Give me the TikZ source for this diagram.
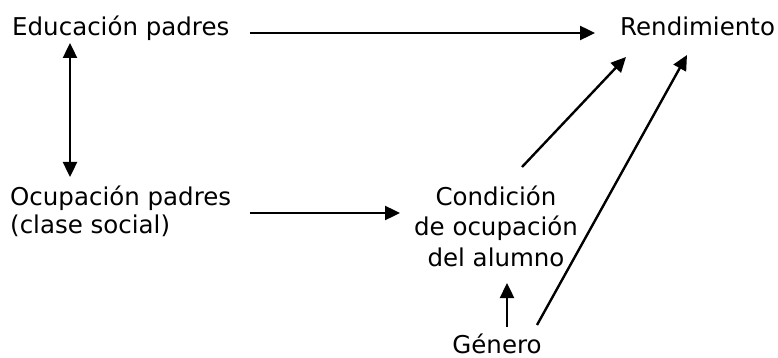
\documentclass[tikz,border=0pt]{standalone}
\usepackage{fontspec}
\setmainfont{DejaVu Sans}
\usetikzlibrary{arrows.meta}

\begin{document}
\begin{tikzpicture}[x=1pt, y=-1pt, every node/.style={inner sep=0pt, font=\fontsize{24.5}{29}\selectfont}, arr/.style={draw=black, line width=2.4pt, -{Triangle[length=15pt,width=14pt]}}, dblarr/.style={arr, {Triangle[length=15pt,width=14pt]}-{Triangle[length=15pt,width=14pt]}}]
			\useasboundingbox (0,0) rectangle (778,358);
			\node[anchor=base west] (edu) at (12,36){Educación padres};
			\node[anchor=base west] (rend) at (620,36){Rendimiento};
			\node[anchor=base west, align=left, font=\fontsize{24.5}{28}\selectfont] (ocu) at (10,233){Ocupación padres\\(clase social)};
			\node[anchor=base, align=center, font=\fontsize{24.5}{30.5}\selectfont] (cond) at (496,266){Condición\\de ocupación\\del alumno};
			\node[anchor=base] (gen) at (497,353){Género};
			
			\path ([shift={(238pt,3pt)}]edu.base west) edge[arr] ([shift={(-25pt,3pt)}]rend.base west);
			\path ([shift={(58pt,-7pt)}]edu.base west) edge[dblarr] ([shift={(60pt,56pt)}]ocu.base west);
			\path ([shift={(240pt,20pt)}]ocu.base west) edge[arr] ([shift={(-96pt,53pt)}]cond.base);
			\path ([shift={(26pt,99pt)}]cond.base) edge[arr] ([shift={(6pt,-21pt)}]rend.base west);
			\path ([shift={(10pt,26pt)}]gen.base) edge[arr] ([shift={(11pt,-17pt)}]cond.base);
			\path ([shift={(40pt,28pt)}]gen.base) edge[arr] ([shift={(67pt,-19pt)}]rend.base west);
			\end{tikzpicture}
\end{document}
